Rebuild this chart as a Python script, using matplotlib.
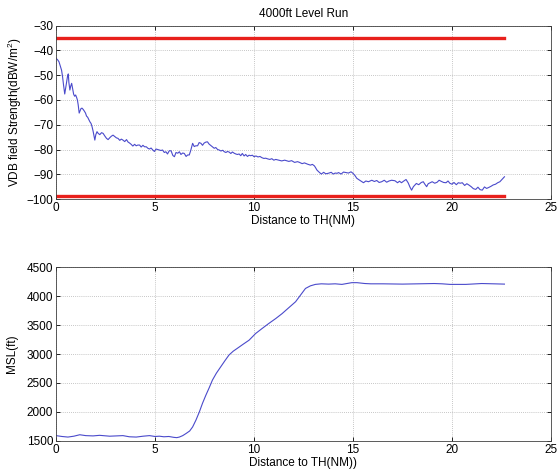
import matplotlib
matplotlib.use("Agg")
import matplotlib.pyplot as plt

plt.rcParams['font.family'] = ['Liberation Sans', 'DejaVu Sans']
plt.rcParams['mathtext.default'] = 'regular'
plt.rcParams['font.size'] = 8.5

# field strength along the run: (distance NM, dBW/m^2)
vdb_samples = [
    (0.00, -43.2), (0.08, -43.8), (0.15, -44.6), (0.22, -46.5), (0.28, -48.0),
    (0.33, -50.6), (0.38, -54.0), (0.44, -57.6), (0.49, -55.0), (0.54, -52.5),
    (0.58, -50.5), (0.62, -49.5), (0.65, -53.0), (0.70, -56.0), (0.74, -54.5),
    (0.79, -53.3), (0.84, -55.5), (0.89, -57.7), (0.94, -58.5), (0.99, -58.0),
    (1.04, -59.0), (1.08, -60.0), (1.12, -62.0), (1.17, -65.3), (1.21, -64.5),
    (1.26, -63.5), (1.31, -63.3), (1.37, -63.8), (1.43, -64.5), (1.49, -65.3),
    (1.54, -66.5), (1.60, -67.0), (1.66, -68.0), (1.71, -68.8), (1.77, -69.5),
    (1.82, -70.8), (1.87, -72.5), (1.92, -74.5), (1.96, -76.2), (2.01, -74.0),
    (2.07, -72.8), (2.13, -73.5), (2.21, -74.0), (2.30, -73.2), (2.38, -73.5),
    (2.46, -74.5), (2.55, -75.5), (2.63, -76.0), (2.72, -75.2), (2.80, -74.6),
    (2.88, -74.2), (2.97, -74.8), (3.05, -75.3), (3.13, -75.5), (3.22, -76.3),
    (3.30, -75.8), (3.38, -76.2), (3.47, -76.8), (3.56, -76.0), (3.64, -77.0),
    (3.70, -77.3), (3.78, -77.8), (3.88, -78.6), (3.97, -77.9), (4.05, -78.5),
    (4.13, -78.2), (4.22, -78.2), (4.30, -79.0), (4.39, -78.3), (4.47, -78.9),
    (4.56, -78.9), (4.64, -79.5), (4.72, -79.8), (4.80, -79.4), (4.89, -80.2),
    (4.97, -80.8), (5.05, -79.8), (5.13, -80.0), (5.22, -80.2), (5.30, -80.4),
    (5.38, -80.2), (5.47, -81.2), (5.55, -80.9), (5.63, -81.8), (5.72, -80.5),
    (5.81, -80.5), (5.90, -82.4), (5.98, -82.9), (6.06, -81.2), (6.15, -81.5),
    (6.23, -80.9), (6.31, -82.0), (6.40, -81.4), (6.48, -81.6), (6.57, -82.8),
    (6.65, -82.2), (6.73, -82.2), (6.80, -80.5), (6.90, -77.5), (6.98, -78.8),
    (7.06, -78.5), (7.15, -78.5), (7.23, -77.2), (7.32, -77.5), (7.40, -78.3),
    (7.48, -77.4), (7.57, -77.0), (7.65, -76.9), (7.73, -77.8), (7.82, -78.4),
    (7.90, -78.9), (7.99, -79.5), (8.07, -79.2), (8.16, -80.0), (8.24, -80.2),
    (8.33, -80.6), (8.42, -80.3), (8.50, -80.9), (8.58, -81.2), (8.66, -80.8),
    (8.74, -81.0), (8.83, -81.6), (8.91, -81.0), (9.00, -81.5), (9.08, -81.8),
    (9.16, -82.0), (9.25, -81.8), (9.33, -82.5), (9.41, -81.6), (9.50, -82.6),
    (9.58, -82.0), (9.67, -82.8), (9.75, -82.3), (9.83, -82.5), (9.92, -82.3),
    (10.00, -82.9), (10.10, -82.6), (10.20, -83.0), (10.30, -82.8),
    (10.40, -83.3), (10.50, -83.6), (10.59, -83.5), (10.70, -83.8),
    (10.80, -84.0), (10.90, -83.7), (11.00, -84.3), (11.10, -84.0),
    (11.26, -84.3), (11.40, -84.6), (11.55, -84.3), (11.76, -84.8),
    (11.90, -84.5), (12.05, -85.2), (12.20, -84.9), (12.30, -85.2),
    (12.43, -85.7), (12.55, -85.4), (12.70, -85.9), (12.85, -86.3),
    (12.95, -86.0), (13.05, -86.6), (13.10, -87.2), (13.18, -88.3),
    (13.27, -89.0), (13.40, -89.9), (13.52, -89.2), (13.62, -89.8),
    (13.75, -89.6), (13.90, -89.2), (14.00, -89.9), (14.10, -89.5),
    (14.20, -89.6), (14.27, -89.3), (14.40, -89.9), (14.52, -89.1),
    (14.65, -89.3), (14.77, -89.5), (14.90, -89.0), (15.00, -89.6),
    (15.10, -90.5), (15.19, -91.6), (15.30, -92.2), (15.42, -92.8),
    (15.53, -93.4), (15.65, -92.7), (15.78, -93.0), (15.95, -92.4),
    (16.08, -92.9), (16.20, -92.5), (16.32, -93.3), (16.45, -93.0),
    (16.58, -92.4), (16.70, -93.2), (16.82, -92.7), (16.95, -92.4),
    (17.12, -92.6), (17.25, -93.4), (17.35, -92.8), (17.45, -93.4),
    (17.55, -92.8), (17.68, -92.1), (17.79, -93.5), (17.88, -95.2),
    (17.96, -96.4), (18.05, -95.0), (18.20, -93.7), (18.32, -94.2),
    (18.45, -93.3), (18.55, -93.0), (18.63, -94.0), (18.72, -95.0),
    (18.80, -93.8), (18.90, -93.4), (19.00, -93.0), (19.13, -93.6),
    (19.25, -93.2), (19.35, -92.4), (19.47, -92.9), (19.58, -93.3),
    (19.70, -93.4), (19.80, -92.7), (19.89, -93.6), (20.00, -94.0),
    (20.10, -93.3), (20.22, -94.2), (20.32, -93.4), (20.42, -93.6),
    (20.52, -93.4), (20.64, -94.5), (20.75, -93.8), (20.85, -94.3),
    (20.97, -95.0), (21.08, -95.8), (21.20, -96.1), (21.31, -95.2),
    (21.42, -96.2), (21.53, -96.4), (21.64, -95.1), (21.75, -95.7),
    (21.86, -95.3), (21.98, -94.8), (22.08, -94.3), (22.20, -94.0),
    (22.31, -93.4), (22.42, -93.0), (22.50, -92.3), (22.56, -91.8),
    (22.65, -91.0),
]

# altitude along the run: (distance NM, ft MSL)
msl_samples = [
    (0.00, 1590), (0.30, 1575), (0.60, 1565), (0.90, 1580), (1.20, 1605),
    (1.50, 1590), (1.87, 1585), (2.20, 1595), (2.71, 1580), (3.05, 1585),
    (3.38, 1590), (3.70, 1570), (4.05, 1565), (4.40, 1580), (4.72, 1590),
    (5.00, 1575), (5.22, 1580), (5.45, 1570), (5.70, 1575), (5.95, 1560),
    (6.10, 1555), (6.23, 1565), (6.40, 1590), (6.57, 1627), (6.75, 1670),
    (6.90, 1740), (7.07, 1860), (7.24, 2000), (7.40, 2150), (7.57, 2290),
    (7.74, 2420), (7.90, 2550), (8.10, 2670), (8.32, 2780), (8.53, 2885),
    (8.74, 2985), (8.95, 3050), (9.16, 3100), (9.45, 3170), (9.75, 3240),
    (10.08, 3355), (10.40, 3440), (10.75, 3530), (11.10, 3615),
    (11.42, 3700), (11.75, 3800), (12.10, 3905), (12.35, 4020),
    (12.60, 4135), (12.85, 4180), (13.10, 4205), (13.40, 4215),
    (13.77, 4210), (14.10, 4215), (14.44, 4205), (14.94, 4235),
    (15.20, 4235), (15.60, 4220), (15.90, 4215), (16.50, 4215),
    (17.50, 4210), (18.30, 4215), (19.10, 4220), (19.50, 4215),
    (19.90, 4205), (20.70, 4205), (21.50, 4220), (22.10, 4215),
    (22.65, 4210),
]

vdb_dist = [d for d, _ in vdb_samples]
vdb_level = [v for _, v in vdb_samples]
msl_dist = [d for d, _ in msl_samples]
msl_ft = [h for _, h in msl_samples]

# reference limits drawn across the top panel
limit_upper = -35
limit_lower = -98.8
limit_end = 22.65

fig = plt.figure(figsize=(5.58, 4.74), dpi=100)
ax1 = fig.add_axes([0.1004, 0.580, 0.887, 0.366])
ax2 = fig.add_axes([0.1004, 0.070, 0.887, 0.366])

blue = '#4a4acb'

ax1.plot(vdb_dist, vdb_level, color=blue, linewidth=0.8)
ax1.plot([0, limit_end], [limit_upper, limit_upper], color='#e8201c', linewidth=2.4)
ax1.plot([0, limit_end], [limit_lower, limit_lower], color='#e8201c', linewidth=2.4)
ax1.set_xlim(0, 25)
ax1.set_ylim(-100, -30)
ax1.set_xticks([0, 5, 10, 15, 20, 25])
ax1.set_yticks([-100, -90, -80, -70, -60, -50, -40, -30])
ax1.set_title('4000ft Level Run', fontsize=8.5, pad=6)
ax1.set_xlabel('Distance to TH(NM)', labelpad=1)
ax1.set_ylabel('VDB field Strength(dBW/m$^2$)', labelpad=2)

ax2.plot(msl_dist, msl_ft, color=blue, linewidth=0.8)
ax2.set_xlim(0, 25)
ax2.set_ylim(1500, 4500)
ax2.set_xticks([0, 5, 10, 15, 20, 25])
ax2.set_yticks([1500, 2000, 2500, 3000, 3500, 4000, 4500])
ax2.set_xlabel('Distance to TH(NM))', labelpad=1)
ax2.set_ylabel('MSL(ft)', labelpad=6)

for ax in (ax1, ax2):
    ax.grid(True, linestyle=(0, (1, 1.5)), color='#b4b4b4', linewidth=0.6)
    ax.tick_params(direction='in', length=3, width=0.6, labelsize=8.5, pad=2,
                   top=True, right=True)
    for sp in ax.spines.values():
        sp.set_linewidth(0.6)
        sp.set_color('#404040')

fig.savefig('out.png', dpi=100)
